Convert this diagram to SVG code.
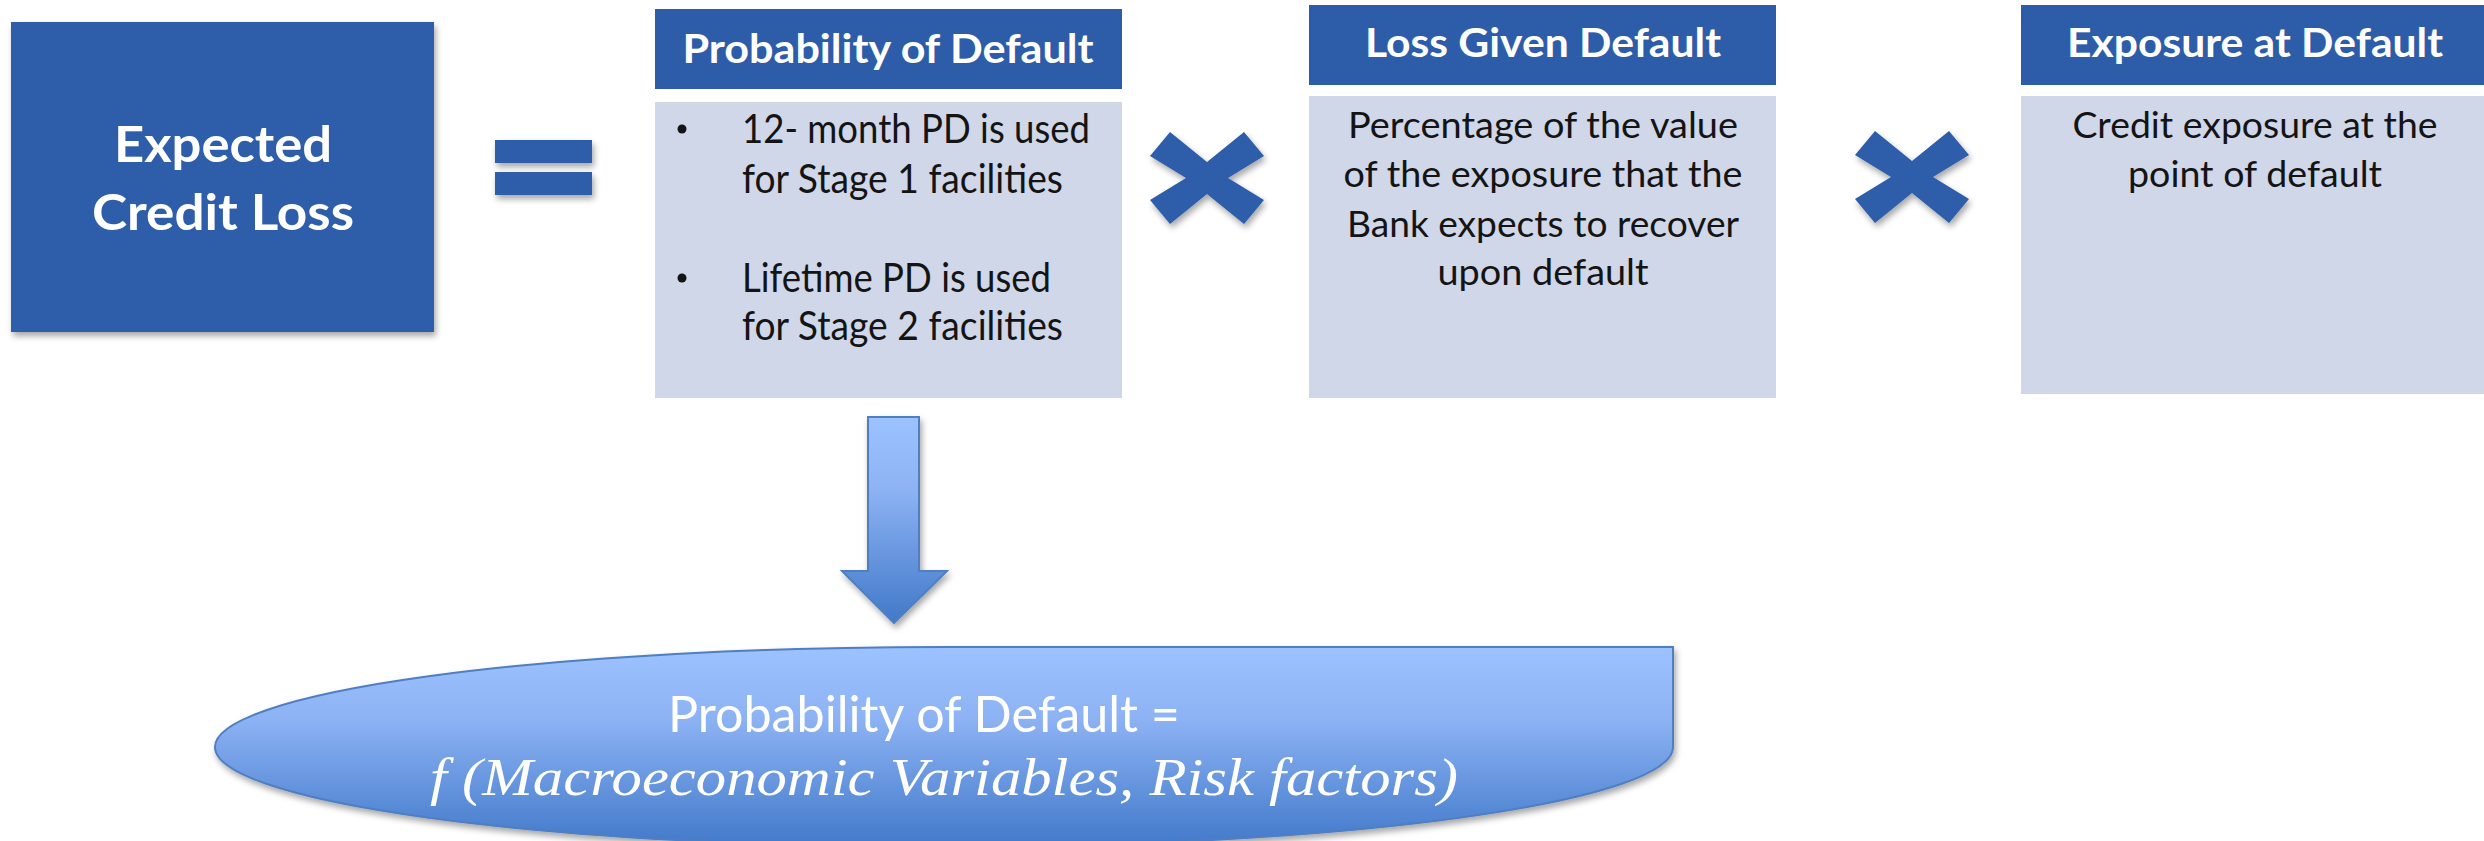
<svg xmlns="http://www.w3.org/2000/svg" width="2484" height="841" viewBox="0 0 2484 841">
<style>
.hdr{fill:#2D5DA9}
.body{fill:#D0D7E8}
.ttl{font-family:Lato,"Open Sans","Liberation Sans",sans-serif;font-weight:700;fill:#FFFFFF}
.txt{font-family:Lato,"Open Sans","Liberation Sans",sans-serif;font-weight:400;fill:#141414}
.wt{font-family:Lato,"Open Sans","Liberation Sans",sans-serif;font-weight:400;fill:#FFFFFF}
.math{font-family:"Liberation Serif","DejaVu Serif",serif;font-style:italic;fill:#FFFFFF}
.op{fill:#2D5DA9}
</style>
<defs>
<filter id="sh" x="-20%" y="-20%" width="140%" height="150%">
<feDropShadow dx="2" dy="4" stdDeviation="3" flood-color="#000" flood-opacity="0.35"/>
</filter>
<linearGradient id="blueGrad" x1="0" y1="0" x2="0" y2="1">
<stop offset="0" stop-color="#9CC2FF"/>
<stop offset="0.35" stop-color="#8DB3F4"/>
<stop offset="1" stop-color="#4179C9"/>
</linearGradient>
<polygon id="times" points="-57,-22 -37,-46 0,-16 37,-46 57,-22 21,0 57,22 37,46 0,16 -37,46 -57,22 -21,0"/>
</defs>

<g id="ecl">
<rect x="11" y="22" width="423" height="310" class="hdr" filter="url(#sh)"/>
<text class="ttl" x="223" y="162" font-size="50" text-anchor="middle" textLength="218" lengthAdjust="spacingAndGlyphs">Expected</text>
<text class="ttl" x="223" y="230" font-size="50" text-anchor="middle" textLength="262" lengthAdjust="spacingAndGlyphs">Credit Loss</text>
</g>

<g id="equals" filter="url(#sh)">
<rect x="495" y="140" width="97" height="23" class="op"/>
<rect x="495" y="172" width="97" height="23" class="op"/>
</g>

<g id="pd">
<rect x="655" y="9" width="467" height="80" class="hdr"/>
<text class="ttl" x="888" y="63" font-size="41" text-anchor="middle" textLength="411" lengthAdjust="spacingAndGlyphs">Probability of Default</text>
<rect x="655" y="102" width="467" height="296" class="body"/>
<circle cx="682" cy="129" r="4.5" fill="#141414"/>
<circle cx="682" cy="278" r="4.5" fill="#141414"/>
<text class="txt" x="742" y="143" font-size="40" textLength="348" lengthAdjust="spacingAndGlyphs">12- month PD is used</text>
<text class="txt" x="742" y="193" font-size="40" textLength="321" lengthAdjust="spacingAndGlyphs">for Stage 1 facilities</text>
<text class="txt" x="742" y="292" font-size="40" textLength="309" lengthAdjust="spacingAndGlyphs">Lifetime PD is used</text>
<text class="txt" x="742" y="340" font-size="40" textLength="321" lengthAdjust="spacingAndGlyphs">for Stage 2 facilities</text>
</g>

<g id="times1" filter="url(#sh)">
<use href="#times" x="1207" y="178" class="op"/>
</g>

<g id="lgd">
<rect x="1309" y="5" width="467" height="80" class="hdr"/>
<text class="ttl" x="1543" y="57" font-size="41" text-anchor="middle" textLength="356" lengthAdjust="spacingAndGlyphs">Loss Given Default</text>
<rect x="1309" y="96" width="467" height="302" class="body"/>
<text class="txt" x="1543" y="138" font-size="37" text-anchor="middle" textLength="390" lengthAdjust="spacingAndGlyphs">Percentage of the value</text>
<text class="txt" x="1543" y="187" font-size="37" text-anchor="middle" textLength="399" lengthAdjust="spacingAndGlyphs">of the exposure that the</text>
<text class="txt" x="1543" y="237" font-size="37" text-anchor="middle" textLength="392" lengthAdjust="spacingAndGlyphs">Bank expects to recover</text>
<text class="txt" x="1543" y="285" font-size="37" text-anchor="middle" textLength="211" lengthAdjust="spacingAndGlyphs">upon default</text>
</g>

<g id="times2" filter="url(#sh)">
<use href="#times" x="1912" y="177" class="op"/>
</g>

<g id="ead">
<rect x="2021" y="5" width="470" height="80" class="hdr"/>
<text class="ttl" x="2255" y="57" font-size="41" text-anchor="middle" textLength="376" lengthAdjust="spacingAndGlyphs">Exposure at Default</text>
<rect x="2021" y="96" width="470" height="298" class="body"/>
<text class="txt" x="2255" y="138" font-size="37" text-anchor="middle" textLength="365" lengthAdjust="spacingAndGlyphs">Credit exposure at the</text>
<text class="txt" x="2255" y="187" font-size="37" text-anchor="middle" textLength="254" lengthAdjust="spacingAndGlyphs">point of default</text>
</g>

<g id="connectors">
<path d="M868,417 L919,417 L919,571 L947,571 L894,623 L842,571 L868,571 Z" fill="url(#blueGrad)" stroke="#4F7FC0" stroke-width="2" filter="url(#sh)"/>
</g>

<g id="pd-formula">
<path d="M215,747 A729,100 0 0 1 944,647 L1673,647 L1673,747 A729,100 0 0 1 944,847 A729,100 0 0 1 215,747 Z" fill="url(#blueGrad)" stroke="#4F7FC0" stroke-width="2" filter="url(#sh)"/>
<text class="wt" x="668" y="732" font-size="50" textLength="512" lengthAdjust="spacingAndGlyphs">Probability of Default =</text>
<text class="math" x="430" y="795" font-size="52" textLength="1028" lengthAdjust="spacingAndGlyphs">f (Macroeconomic Variables, Risk factors)</text>
</g>
</svg>
